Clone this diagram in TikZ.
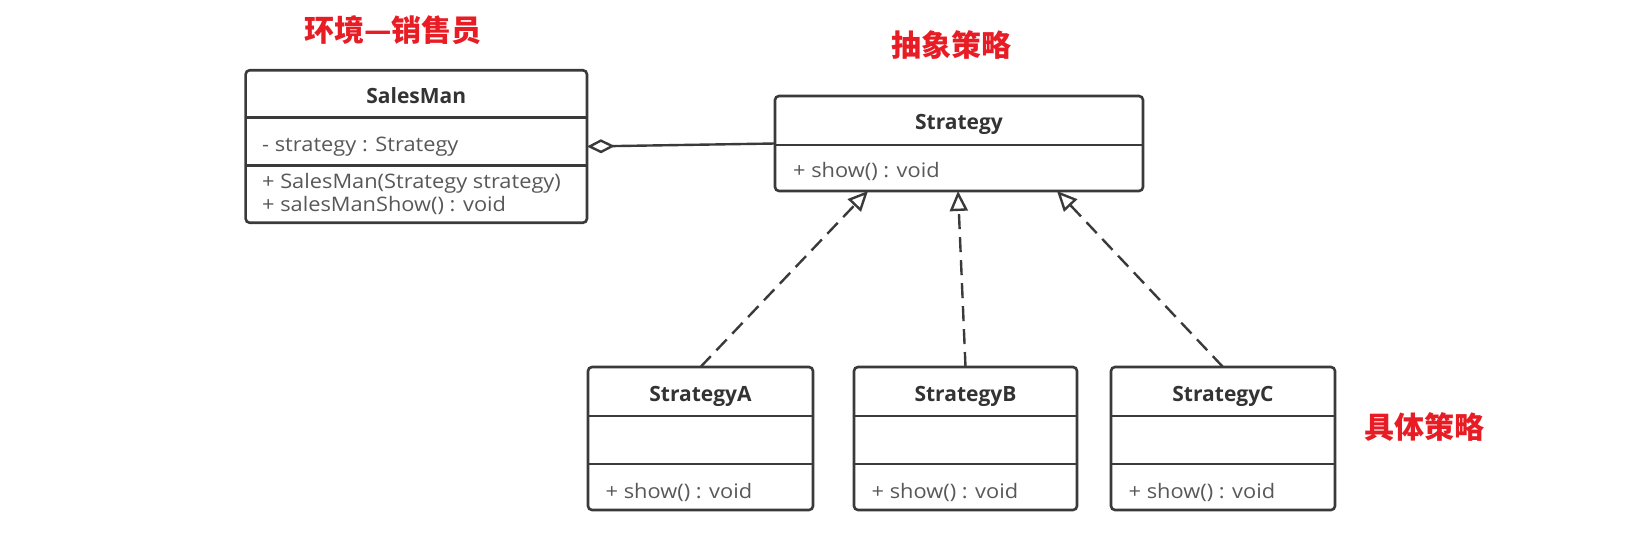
\documentclass[tikz,border=0pt]{standalone}
\usepackage{fontspec}
\setmainfont{Open Sans}[FakeStretch=1.09]
\newfontfamily\umlnamefont{Open Sans}
\newfontfamily\cjk{Noto Sans CJK SC}
\usepackage{tikz}
\usetikzlibrary{positioning,arrows.meta}
\definecolor{umlline}{RGB}{58,58,58}
\definecolor{umltitle}{RGB}{51,51,51}
\definecolor{umltext}{RGB}{88,88,88}
\definecolor{notered}{RGB}{232,28,36}

\begin{document}
\begin{tikzpicture}
		[x=1pt, y=-1pt,
		classbox/.style={draw=umlline, line width=2.6pt, rounded corners=4pt,
			inner sep=0pt, outer sep=0pt},
		divider/.style={draw=umlline, line width=2.6pt},
		classname/.style={font=\umlnamefont\bfseries\fontsize{21}{21}\selectfont, text=umltitle,
			anchor=base, inner sep=0pt},
		member/.style={font=\fontsize{20}{20}\selectfont, text=umltext,
			anchor=base west, inner sep=0pt},
		realize/.style={draw=umlline, line width=2.4pt, dash pattern=on 15pt off 8pt,
			-{Triangle[open,length=20pt,width=18pt]}},
		aggregate/.style={draw=umlline, line width=2.4pt,
			{Diamond[open,length=28pt,width=14pt]}-},
		note/.style={text=notered, font=\cjk\bfseries\fontsize{30}{30}\selectfont},
		]
		\useasboundingbox (0,0) rectangle (1629,554);
		
		% context
		\node[classbox, minimum width=341.3pt, minimum height=152.5pt] (salesman) at (416.3,146.5) {};
		\draw[divider] ([yshift=-47.5pt]salesman.north west) -- ([yshift=-47.5pt]salesman.north east);
		\draw[divider] ([yshift=-95.5pt]salesman.north west) -- ([yshift=-95.5pt]salesman.north east);
		\node[classname] (salesmanname) at ([yshift=-33.5pt]salesman.north) {SalesMan};
		\node[member] (salesmanattr) at ([xshift=16.3pt,yshift=-81.5pt]salesman.north west) {- strategy : Strategy};
		\node[member] (salesmannew) at ([xshift=16.3pt,yshift=-118pt]salesman.north west) {+ SalesMan(Strategy strategy)};
		\node[member] (salesmanshow) at ([xshift=16.3pt,yshift=-141pt]salesman.north west) {+ salesManShow() : void};
		
		% abstract strategy
		\node[classbox, minimum width=368pt, minimum height=95pt] (strategy) at (959,143.5) {};
		\draw[divider] ([yshift=-49pt]strategy.north west) -- ([yshift=-49pt]strategy.north east);
		\node[classname] (strategyname) at ([yshift=-33pt]strategy.north) {Strategy};
		\node[member] (strategyshow) at ([xshift=18pt,yshift=-81pt]strategy.north west) {+ show() : void};
		
		% concrete strategies
		\node[classbox, minimum width=225pt, minimum height=143pt] (strategyA) at (700.5,438.5) {};
		\draw[divider] ([yshift=-49pt]strategyA.north west) -- ([yshift=-49pt]strategyA.north east);
		\draw[divider] ([yshift=-97pt]strategyA.north west) -- ([yshift=-97pt]strategyA.north east);
		\node[classname] (strategyAname) at ([yshift=-34pt]strategyA.north) {StrategyA};
		\node[member] (strategyAshow) at ([xshift=17.5pt,yshift=-131pt]strategyA.north west) {+ show() : void};
		
		\node[classbox, minimum width=223pt, minimum height=143pt] (strategyB) at (965.5,438.5) {};
		\draw[divider] ([yshift=-49pt]strategyB.north west) -- ([yshift=-49pt]strategyB.north east);
		\draw[divider] ([yshift=-97pt]strategyB.north west) -- ([yshift=-97pt]strategyB.north east);
		\node[classname] (strategyBname) at ([yshift=-34pt]strategyB.north) {StrategyB};
		\node[member] (strategyBshow) at ([xshift=17.5pt,yshift=-131pt]strategyB.north west) {+ show() : void};
		
		\node[classbox, minimum width=224pt, minimum height=143pt] (strategyC) at (1223,438.5) {};
		\draw[divider] ([yshift=-49pt]strategyC.north west) -- ([yshift=-49pt]strategyC.north east);
		\draw[divider] ([yshift=-97pt]strategyC.north west) -- ([yshift=-97pt]strategyC.north east);
		\node[classname] (strategyCname) at ([yshift=-34pt]strategyC.north) {StrategyC};
		\node[member] (strategyCshow) at ([xshift=17.5pt,yshift=-131pt]strategyC.north west) {+ show() : void};
		
		\draw[aggregate] (salesman.east) -- (strategy.west);
		\draw[realize] (strategyA.north) -- ([xshift=-91pt]strategy.south);
		\draw[realize] (strategyB.north) -- ([xshift=-1pt]strategy.south);
		\draw[realize] (strategyC.north) -- ([xshift=98pt]strategy.south);
		
		\node[note] (context) at (393,30) {环境—销售员};
		\node[note] (abstract) at (951,45) {抽象策略};
		\node[note] (concrete) at (1424,427) {具体策略};
		
	\end{tikzpicture}
\end{document}
